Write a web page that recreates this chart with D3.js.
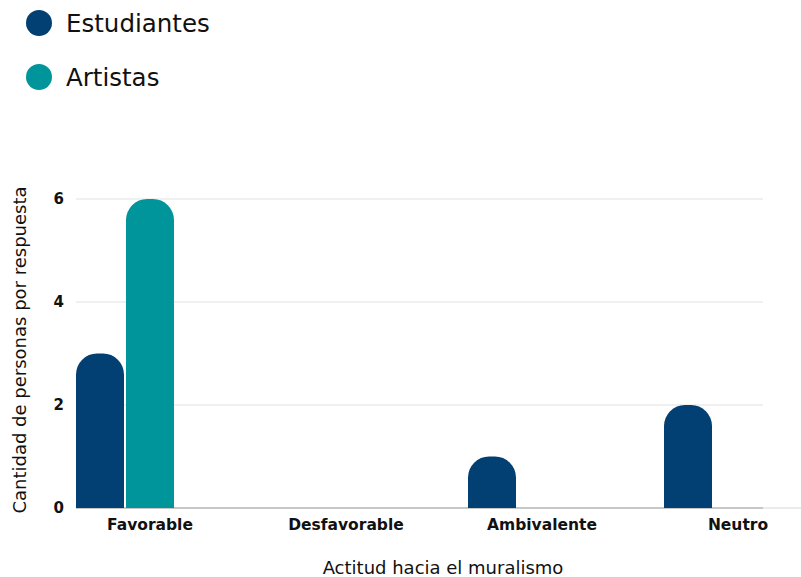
<!DOCTYPE html>
<html>
<head>
<meta charset="utf-8">
<script src="https://cdn.jsdelivr.net/npm/d3@7"></script>
<style>
  body { margin: 0; background: #fff; }
  svg text { font-family: "DejaVu Sans", sans-serif; fill: #111; }
</style>
</head>
<body>
<div id="chart"></div>
<script>
const categories = ['Favorable', 'Desfavorable', 'Ambivalente', 'Neutro'];
const series = ['Estudiantes', 'Artistas'];
const estudiantes = [3, 0, 1, 2];
const artistas = [6, 0, 0, 0];
const yTicks = [0, 2, 4, 6];
const colors = ['#023f72', '#00959a'];

const width = 801, height = 577;
const plot = { left: 76, right: 763, top: 199, bottom: 508 };

const svg = d3.select('#chart')
  .append('svg')
  .attr('width', width)
  .attr('height', height);

// scales
const x = d3.scaleBand()
  .domain(categories)
  .range([plot.left, plot.left + 196 * categories.length])
  .paddingInner(0)
  .paddingOuter(0);

const xSub = d3.scaleBand()
  .domain(series)
  .range([0, 98])
  .paddingInner(0.04);

const y = d3.scaleLinear()
  .domain([0, 6])
  .range([plot.bottom, plot.top]);

// gridlines
svg.append('g')
  .selectAll('line')
  .data(yTicks.filter(d => d > 0))
  .join('line')
  .attr('x1', plot.left)
  .attr('x2', plot.right)
  .attr('y1', d => y(d))
  .attr('y2', d => y(d))
  .attr('stroke', '#e2e2e2')
  .attr('stroke-width', 1.2);

// baseline
svg.append('line')
  .attr('x1', plot.left).attr('x2', plot.right)
  .attr('y1', y(0)).attr('y2', y(0))
  .attr('stroke', '#b5b5b5').attr('stroke-width', 1.5);
svg.append('line')
  .attr('x1', plot.right).attr('x2', width)
  .attr('y1', y(0)).attr('y2', y(0))
  .attr('stroke', '#e4e4e4').attr('stroke-width', 1.5);

// y tick labels
const yAxis = d3.axisLeft(y).tickValues(yTicks).tickFormat(d3.format('d')).tickSize(0).tickPadding(0);
svg.append('g')
  .attr('transform', `translate(64, 0)`)
  .call(yAxis)
  .call(g => g.select('.domain').remove())
  .call(g => g.selectAll('text')
    .style('font-family', '"DejaVu Sans", sans-serif')
    .style('font-size', '15px')
    .style('font-weight', 700)
    .attr('fill', '#111'));

// x labels
svg.append('g')
  .selectAll('text')
  .data(categories)
  .join('text')
  .attr('x', d => x(d) + 74)
  .attr('y', 530)
  .attr('text-anchor', 'middle')
  .style('font-size', '15.5px')
  .style('font-weight', 700)
  .text(d => d);

// rounded top bar path
function barPath(x0, w, yTop, yBase) {
  const h = yBase - yTop;
  const r = Math.min(21, w / 2, h);
  return `M${x0},${yBase}V${yTop + r}` +
    `A${r},${r} 0 0 1 ${x0 + r},${yTop}` +
    `H${x0 + w - r}` +
    `A${r},${r} 0 0 1 ${x0 + w},${yTop + r}` +
    `V${yBase}Z`;
}

const rows = categories.map((c, i) => ({ cat: c, values: [estudiantes[i], artistas[i]] }));

svg.append('g')
  .selectAll('g')
  .data(rows)
  .join('g')
  .attr('transform', d => `translate(${x(d.cat)}, 0)`)
  .selectAll('path')
  .data(d => d.values.map((v, j) => ({ s: series[j], v, j })).filter(e => e.v > 0))
  .join('path')
  .attr('d', e => barPath(xSub(e.s), xSub.bandwidth(), y(e.v), y(0)))
  .attr('fill', e => colors[e.j]);

// axis titles
svg.append('text')
  .attr('transform', 'translate(26, 350) rotate(-90)')
  .attr('text-anchor', 'middle')
  .style('font-size', '18px')
  .text('Cantidad de personas por respuesta');

svg.append('text')
  .attr('x', 443)
  .attr('y', 574)
  .attr('text-anchor', 'middle')
  .style('font-size', '18px')
  .text('Actitud hacia el muralismo');

// legend
const legend = svg.append('g')
  .selectAll('g')
  .data(series)
  .join('g')
  .attr('transform', (d, i) => `translate(39, ${23 + i * 54})`);
legend.append('circle')
  .attr('r', 13)
  .attr('fill', (d, i) => colors[i]);
legend.append('text')
  .attr('x', 27)
  .attr('y', 9)
  .style('font-size', '24.5px')
  .text(d => d);
</script>
</body>
</html>
